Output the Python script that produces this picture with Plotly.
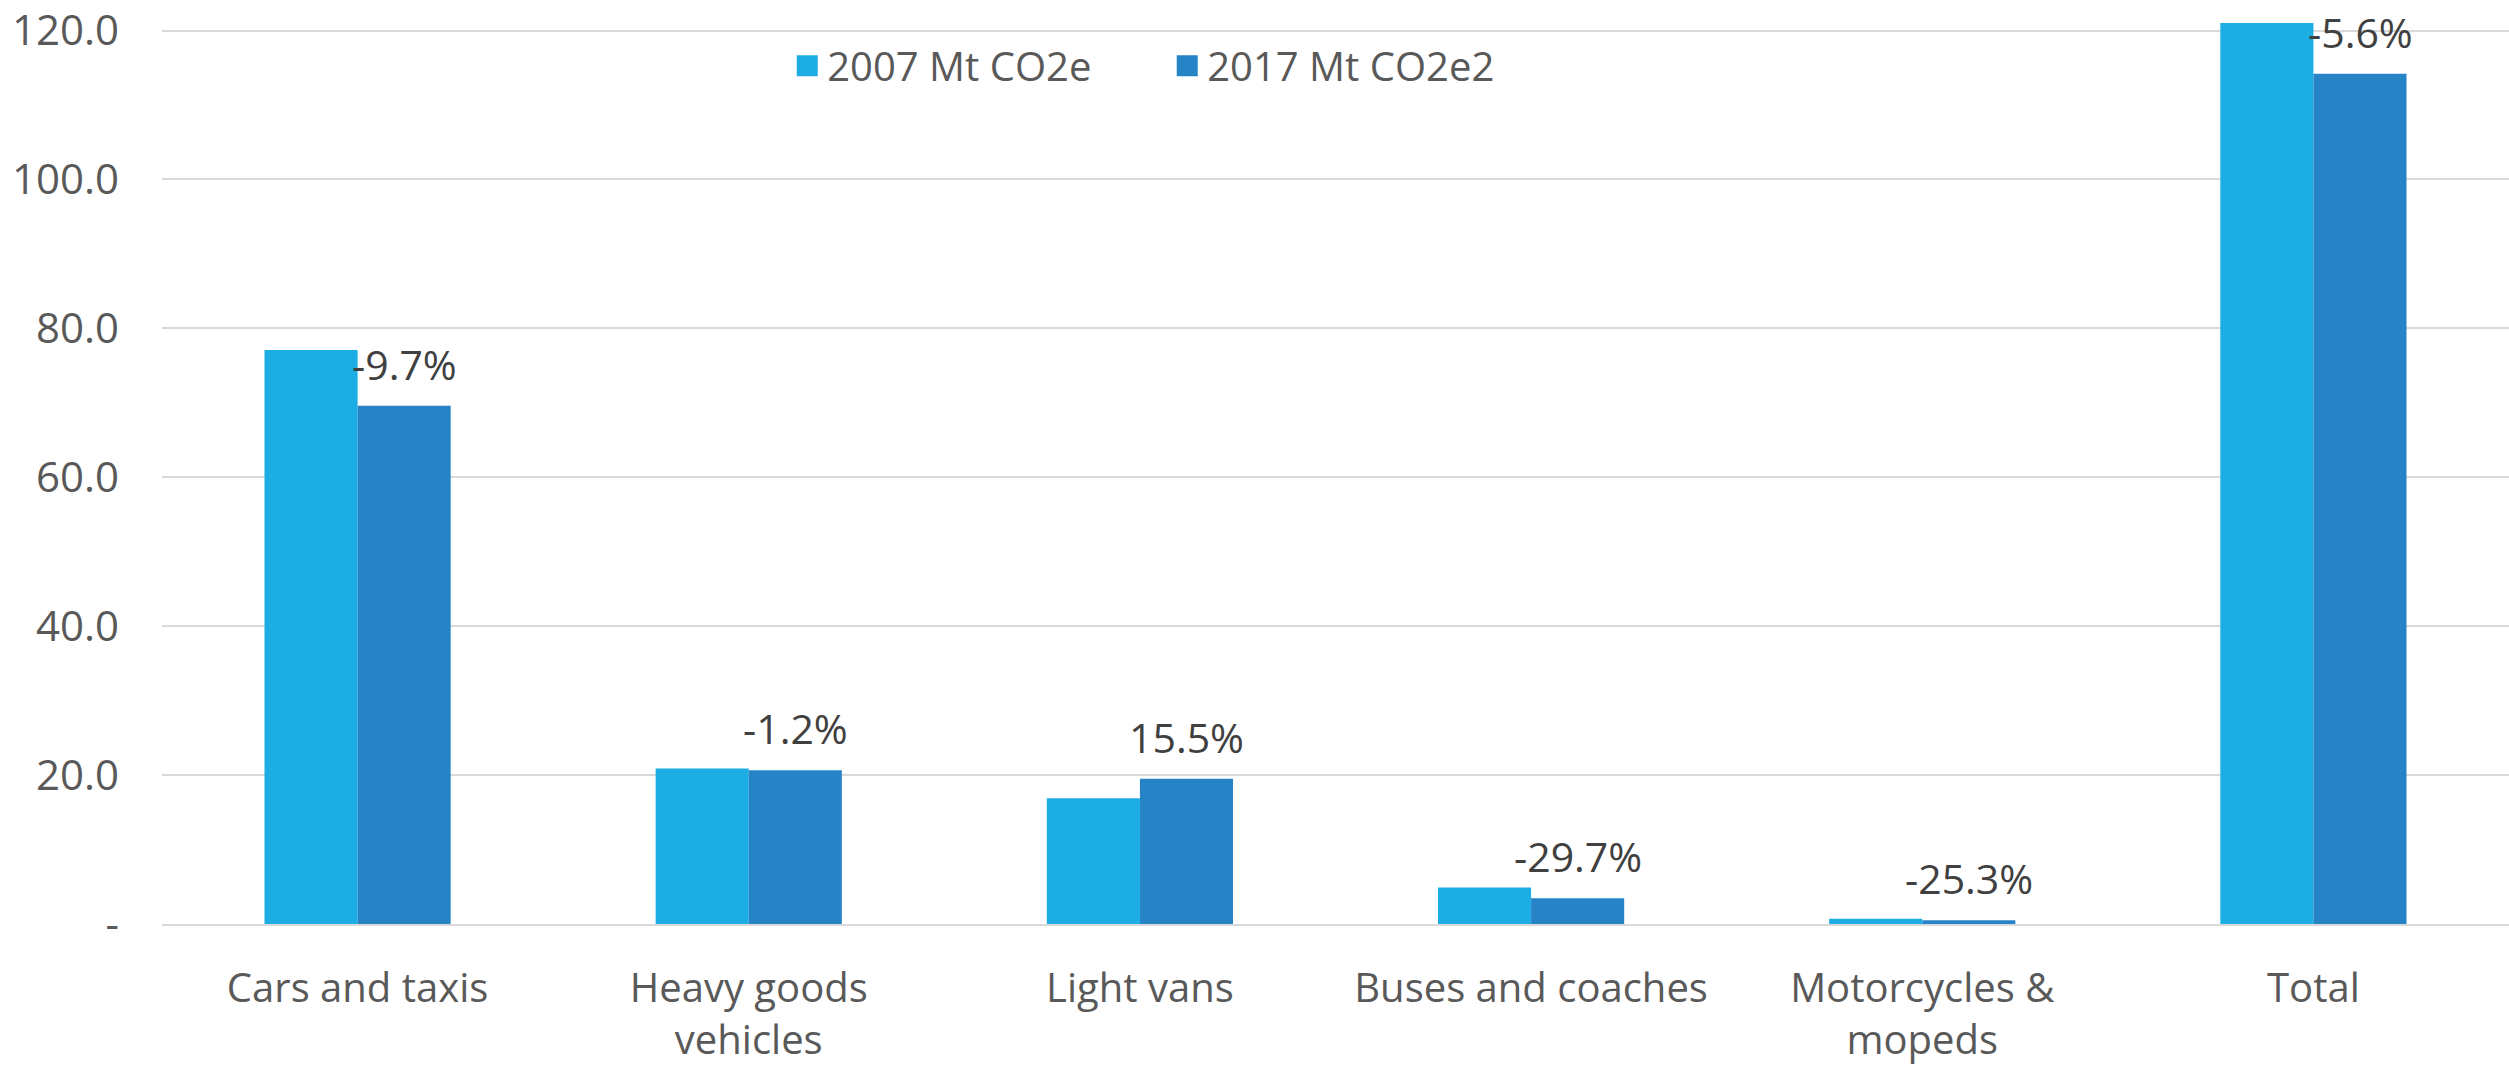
import plotly.graph_objects as go

categories = ["Cars and taxis", "Heavy goods<br>vehicles", "Light vans",
              "Buses and coaches", "Motorcycles &<br>mopeds", "Total"]
values_2007 = [77.1, 20.9, 16.9, 4.9, 0.7, 121.0]
values_2017 = [69.6, 20.65, 19.5, 3.45, 0.52, 114.2]
change_labels = ["-9.7%", "-1.2%", "15.5%", "-29.7%", "-25.3%", "-5.6%"]
series_names = ["2007 Mt CO2e", "2017 Mt CO2e2"]
tick_vals = [0, 20, 40, 60, 80, 100, 120]
tick_text = ["-", "20.0", "40.0", "60.0", "80.0", "100.0", "120.0"]

C1 = "#1CADE4"
C2 = "#2683C6"
FONT = "Open Sans"

fig = go.Figure()
fig.add_trace(go.Bar(x=categories, y=values_2007, name=series_names[0], showlegend=False,
                     marker=dict(color=C1, line=dict(width=0))))
fig.add_trace(go.Bar(x=categories, y=values_2017, name=series_names[1], showlegend=False,
                     marker=dict(color=C2, line=dict(width=0))))
# legend entries with larger square swatches
for nm, col in zip(series_names, [C1, C2]):
    fig.add_trace(go.Scatter(x=[None], y=[None], mode="markers", name=nm,
                             marker=dict(symbol="square", size=16, color=col,
                                         line=dict(width=6, color=col))))

for cat, v, lab in zip(categories, values_2017, change_labels):
    fig.add_annotation(x=cat, y=v, xref="x", yref="y", text=lab,
                       showarrow=False, xshift=47, yshift=12, yanchor="bottom",
                       font=dict(family=FONT, size=41, color="#404040"))

fig.update_layout(
    width=2509, height=1066,
    margin=dict(l=162, r=0, t=0, b=142),
    plot_bgcolor="white", paper_bgcolor="white",
    barmode="group", bargap=0.524, bargroupgap=0,
    font=dict(family=FONT, size=40, color="#595959"),
    legend=dict(orientation="h", x=0.2664, y=0.932, xanchor="left", yanchor="middle",
                entrywidth=335,
                font=dict(family=FONT, size=40, color="#595959"),
                bgcolor="rgba(0,0,0,0)"),
    showlegend=True,
)
fig.update_xaxes(showgrid=False, showline=True, linecolor="#D9D9D9", linewidth=2,
                 ticks="", ticklabelstandoff=28,
                 tickfont=dict(family=FONT, size=40, color="#595959"))
fig.update_yaxes(range=[0, 123.7], tickvals=tick_vals, ticktext=tick_text,
                 showgrid=True, gridcolor="#D9D9D9", gridwidth=2,
                 zeroline=False, showline=False, ticks="", ticklabelstandoff=42,
                 ticklabeloverflow="allow",
                 tickfont=dict(family=FONT, size=42, color="#595959"))
for t in fig.data:
    t.cliponaxis = False

fig.write_html("out.html", config={"displayModeBar": False},
               post_script="document.body.style.margin='0';")
